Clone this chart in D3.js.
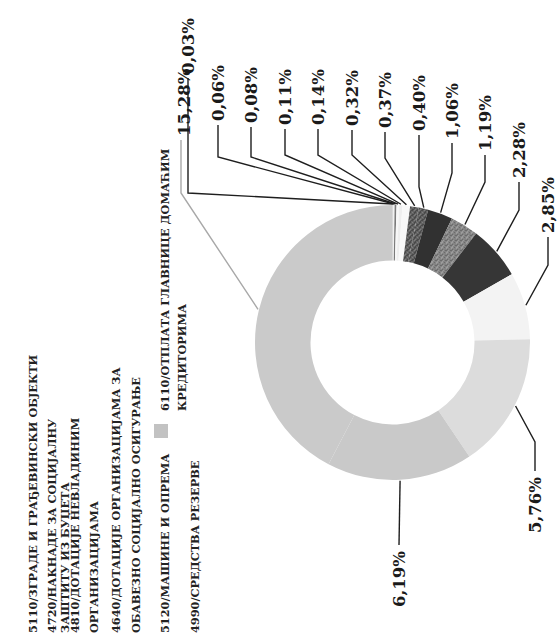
<!DOCTYPE html>
<html><head><meta charset="utf-8">
<script src="https://cdn.jsdelivr.net/npm/d3@7/dist/d3.min.js"></script>
<style>body{margin:0;background:#fff}svg{display:block}</style>
</head><body>
<script>
// ---- data ----
const slicePct = [0.03,0.06,0.08,0.11,0.14,0.32,0.37,0.40,1.06,1.19,2.28,2.85,5.76,6.19,15.28];
const sliceLabels = ["0,03%","0,06%","0,08%","0,11%","0,14%","0,32%","0,37%","0,40%","1,06%","1,19%","2,28%","2,85%","5,76%","6,19%","15,28%"];
const sliceFills = ["#cfcfcf","#efefef","#7a7a7a","#f7f7f7","#eeeeee","#f8f8f8","url(#speckDark)","url(#speckDark)","#313131","url(#speckMid)","#363636","#f3f3f3","#dcdcdc","#c9c9c9","#cacaca"];
const legendLines = [
  "5110/ЗГРАДЕ И ГРАЂЕВИНСКИ ОБЈЕКТИ",
  "4720/НАКНАДЕ ЗА СОЦИЈАЛНУ",
  "ЗАШТИТУ ИЗ БУЏЕТА",
  "4810/ДОТАЦИЈЕ НЕВЛАДИНИМ",
  "ОРГАНИЗАЦИЈАМА",
  "4640/ДОТАЦИЈЕ ОРГАНИЗАЦИЈАМА ЗА",
  "ОБАВЕЗНО СОЦИЈАЛНО ОСИГУРАЊЕ",
  "5120/МАШИНЕ И ОПРЕМА",
  "4990/СРЕДСТВА РЕЗЕРВЕ"
];
const legendSecond = ["6110/ОТПЛАТА ГЛАВНИЦЕ ДОМАЋИМ", "КРЕДИТОРИМА"];
const legendSecondFill = "#c2c2c2";

// ---- layout ----
const W = 557, H = 642;
const cx = 392.5, cy = 342.5, rOuter = 137.5, rInner = 82;
const legendX = [37, 56, 69, 79, 98, 120, 140, 169, 199];
const legendY = 633;
const legend2X = [169, 186], legend2Y = 411;
const labelLayout = [
  {x:188, y:74,  ey:193, side:"top"},
  {x:218, y:121, ey:157, side:"top"},
  {x:251, y:123, ey:157, side:"top"},
  {x:285, y:125, ey:155, side:"top"},
  {x:318, y:125, ey:155, side:"top"},
  {x:352, y:126, ey:155, side:"top"},
  {x:385, y:128, ey:158, side:"top"},
  {x:419, y:131, ey:187, side:"top"},
  {x:452, y:139, ey:173, side:"top"},
  {x:485, y:151, ey:182, side:"top"},
  {x:519, y:178, ey:210, side:"top"},
  {x:548, y:233, ey:265, side:"top"},
  {x:535, y:477, ey:442, side:"bottom"},
  {x:399, y:551, ey:null, side:"bottom"},
  {x:184, y:136, ey:193, side:"top", gray:true}
];

const svg = d3.select("body").append("svg").attr("width", W).attr("height", H);
const defs = svg.append("defs");
function speck(id, base, dot, pts) {
  const p = defs.append("pattern").attr("id", id).attr("patternUnits","userSpaceOnUse")
    .attr("width", 5).attr("height", 5);
  p.append("rect").attr("width",5).attr("height",5).attr("fill", base);
  pts.forEach(([x,y]) => p.append("rect").attr("x",x).attr("y",y).attr("width",1).attr("height",1).attr("fill",dot));
}
speck("speckDark", "#4a4a4a", "#b0b0b0", [[0,0],[3,1],[1,3],[4,4],[2,2]]);
speck("speckMid", "#9c9c9c", "#3a3a3a", [[0,1],[2,0],[4,2],[1,4],[3,3],[2,2]]);

const pie = d3.pie().sort(null).value(d => d).startAngle(0).endAngle(2*Math.PI);
const arcs = pie(slicePct);
const arc = d3.arc().innerRadius(rInner).outerRadius(rOuter);

const g = svg.append("g").attr("transform", `translate(${cx},${cy})`);
g.selectAll("path").data(arcs).join("path")
  .attr("d", arc).attr("fill", (d,i) => sliceFills[i]);

// leader lines
const edgeArc = d3.arc().innerRadius(rOuter + 1).outerRadius(rOuter + 1);
const leaders = svg.append("g").attr("fill","none").attr("stroke-width",1.4);
arcs.forEach((d, i) => {
  const L = labelLayout[i];
  const [px, py] = edgeArc.centroid(d);
  const ax = cx + px, ay = cy + py;
  let pts;
  if (L.side === "top") {
    const startY = L.y + 4;
    const lx = L.gray ? L.x - 3 : L.x;
    pts = [[lx, startY], [lx, L.ey], [ax, ay]];
  } else if (L.ey !== null) {
    pts = [[ax, ay], [L.x, L.ey], [L.x, L.y - 6]];
  } else {
    pts = [[ax, ay], [L.x, L.y - 6]];
  }
  leaders.append("path").attr("d", d3.line()(pts))
    .attr("stroke", L.gray ? "#a8a8a8" : "#1e1e1e");
});

// percentage labels (rotated, reading bottom to top)
svg.append("g").selectAll("text").data(arcs).join("text")
  .attr("transform", (d,i) => `translate(${labelLayout[i].x},${labelLayout[i].y}) rotate(-90)`)
  .attr("dy", "0.36em")
  .attr("text-anchor", (d,i) => labelLayout[i].side === "top" ? "start" : "end")
  .attr("font-family", "DejaVu Serif")
  .attr("font-weight", "bold")
  .attr("font-size", 16.5)
  .attr("fill", "#1a1a1a")
  .text((d,i) => sliceLabels[i]);

// legend (rotated)
const lg = svg.append("g").attr("font-family","DejaVu Serif").attr("font-weight","bold")
  .attr("font-size",11.3).attr("fill","#222");
lg.selectAll("text.l1").data(legendLines).join("text").attr("class","l1")
  .attr("transform", (d,i) => `translate(${legendX[i]},${legendY}) rotate(-90)`)
  .text(d => d);
lg.selectAll("text.l2").data(legendSecond).join("text").attr("class","l2")
  .attr("transform", (d,i) => `translate(${legend2X[i]},${legend2Y}) rotate(-90)`)
  .text(d => d);
lg.append("rect").attr("x",154).attr("y",424).attr("width",14).attr("height",14).attr("fill",legendSecondFill);
</script>
</body></html>
